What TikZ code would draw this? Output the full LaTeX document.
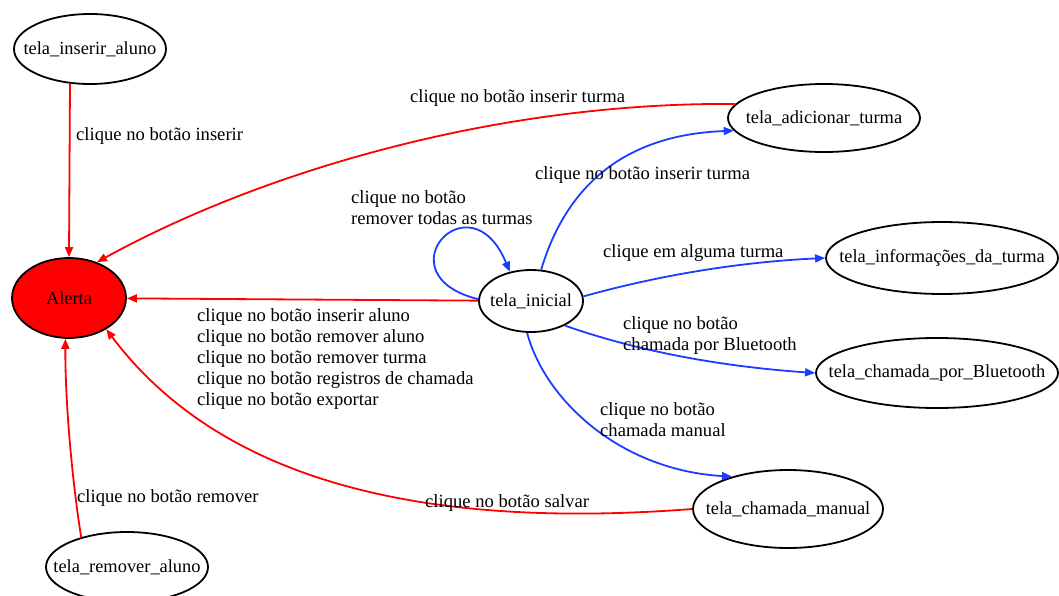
\documentclass[tikz,border=0pt]{standalone}
\usepackage{fontspec}
\setmainfont{Liberation Serif}
\usetikzlibrary{arrows.meta,shapes.geometric}
\definecolor{edgered}{RGB}{255,0,0}
\definecolor{edgeblue}{RGB}{30,60,255}
\newcommand{\statetext}[1]{\makebox[0pt][c]{#1}}
\begin{document}
\begin{tikzpicture}[x=1pt,y=-1pt,
  state/.style={draw=black,line width=1.8pt,ellipse,inner sep=0pt,
    font=\fontsize{18.4}{21}\selectfont},
  lbl/.style={anchor=west,inner sep=0pt,align=left,
    font=\fontsize{18.6}{21}\selectfont},
  redge/.style={draw=edgered,line width=1.8pt,-{Triangle[length=10pt,width=8pt]}},
  bedge/.style={draw=edgeblue,line width=1.8pt,-{Triangle[length=10pt,width=8pt]}}]
\useasboundingbox (0,0) rectangle (1059,596);

% states
\node[state,minimum width=152pt,minimum height=70pt] (ins) at (90,49) {\statetext{tela\_inserir\_aluno}};
\node[state,fill=edgered,minimum width=114pt,minimum height=80pt] (alerta) at (69,298) {\statetext{Alerta}};
\node[state,minimum width=162pt,minimum height=70pt] (rem) at (127,567) {\statetext{tela\_remover\_aluno}};
\node[state,minimum width=104pt,minimum height=62pt] (ini) at (531,301) {\statetext{tela\_inicial}};
\node[state,minimum width=192pt,minimum height=68pt] (adic) at (824,118) {\statetext{tela\_adicionar\_turma}};
\node[state,minimum width=232pt,minimum height=72pt] (info) at (942,258) {\statetext{tela\_informações\_da\_turma}};
\node[state,minimum width=242pt,minimum height=70pt] (blue) at (937,373) {\statetext{tela\_chamada\_por\_Bluetooth}};
\node[state,minimum width=190pt,minimum height=78pt] (manual) at (788,509) {\statetext{tela\_chamada\_manual}};

% transitions into Alerta
\draw[redge] (ins.240) -- (alerta.north);
\draw[redge] (adic.171) .. controls (490,102) and (255,175) .. (alerta.52);
\draw[redge] (ini) -- (alerta);
\draw[redge] (rem.147) .. controls (72,480) and (65,400) .. (alerta.265);
\draw[redge] (manual.west) .. controls (420,530) and (220,480) .. (alerta.-40);

% transitions from tela_inicial
\draw[bedge] (ini.178) .. controls (380,275) and (470,175) .. (ini.126);
\draw[bedge] (ini.72) .. controls (565,190) and (620,135) .. (adic.188);
\draw[bedge] (ini.5) .. controls (660,275) and (740,262) .. (info.west);
\draw[bedge] (ini.-36) .. controls (620,345) and (700,365) .. (blue.west);
\draw[bedge] (ini.263) .. controls (545,400) and (620,470) .. (manual.150);

% labels
\node[lbl] (l1) at (76,136) {clique no botão inserir};
\node[lbl] (l2) at (410,98) {clique no botão inserir turma};
\node[lbl] (l3) at (197,359) {clique no botão inserir aluno\\clique no botão remover aluno\\clique no botão remover turma\\clique no botão registros de chamada\\clique no botão exportar};
\node[lbl] (l4) at (77,498) {clique no botão remover};
\node[lbl] (l5) at (425,503) {clique no botão salvar};
\node[lbl] (l6) at (351,208) {clique no botão\\remover todas as turmas};
\node[lbl] (l7) at (535,175) {clique no botão inserir turma};
\node[lbl] (l8) at (603,253) {clique em alguma turma};
\node[lbl] (l9) at (623,336) {clique no botão\\chamada por Bluetooth};
\node[lbl] (l10) at (600,420) {clique no botão\\chamada manual};
\end{tikzpicture}
\end{document}
